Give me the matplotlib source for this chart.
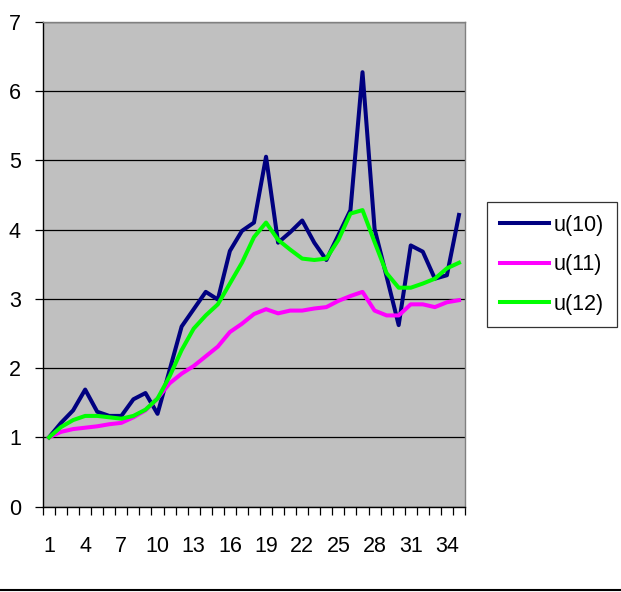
import matplotlib.pyplot as plt
from matplotlib.lines import Line2D
import numpy as np

plt.rcParams['font.family'] = ['Liberation Sans', 'DejaVu Sans']

# data
cats = list(range(1, 36))
u10 = [1.00, 1.21, 1.39, 1.69, 1.37, 1.31, 1.31, 1.55, 1.64, 1.34,
       1.97, 2.60, 2.85, 3.10, 2.99, 3.69, 3.98, 4.10, 5.05, 3.81,
       3.96, 4.13, 3.81, 3.56, 3.92, 4.28, 6.27, 4.01, 3.32, 2.62,
       3.77, 3.68, 3.29, 3.34, 4.21]
u11 = [1.00, 1.08, 1.12, 1.14, 1.16, 1.19, 1.21, 1.29, 1.39, 1.56,
       1.78, 1.92, 2.03, 2.17, 2.31, 2.52, 2.64, 2.78, 2.85, 2.79,
       2.83, 2.83, 2.86, 2.88, 2.97, 3.04, 3.10, 2.83, 2.76, 2.76,
       2.92, 2.92, 2.88, 2.95, 2.98]
u12 = [1.00, 1.15, 1.25, 1.31, 1.31, 1.29, 1.27, 1.31, 1.40, 1.56,
       1.88, 2.26, 2.57, 2.76, 2.92, 3.22, 3.52, 3.89, 4.10, 3.85,
       3.71, 3.58, 3.56, 3.58, 3.85, 4.23, 4.28, 3.82, 3.37, 3.16,
       3.16, 3.22, 3.29, 3.44, 3.52]
names = ['u(10)', 'u(11)', 'u(12)']
colors = ['#000080', '#FF00FF', '#00FF00']

fig = plt.figure(figsize=(6.21, 5.92), dpi=100)
ax = fig.add_axes([0.0692, 0.1441, 0.6796, 0.8194])
ax.set_facecolor('#C0C0C0')

for vals, name, c in zip([u10, u11, u12], names, colors):
    ax.plot(cats, vals, color=c, lw=2.9, label=name)

ax.set_xlim(0.5, 35.5)
ax.set_ylim(0, 7)
ax.set_yticks(range(0, 8))
ax.yaxis.grid(True, color='black', lw=0.9)
ax.set_axisbelow(True)

ax.set_xticks(cats[::3])
ax.set_xticklabels([str(c) for c in cats[::3]])
ax.set_xticks(np.arange(0.5, 36, 1), minor=True)
ax.tick_params(axis='x', which='major', length=0, pad=21, labelsize=15.5)
ax.tick_params(axis='x', which='minor', length=6, width=0.9, direction='out')
ax.tick_params(axis='y', length=6, width=0.9, pad=10, labelsize=15.5)

for s in ['left', 'bottom']:
    ax.spines[s].set_color('black')
    ax.spines[s].set_linewidth(1.0)
for s in ['top', 'right']:
    ax.spines[s].set_color('#808080')
    ax.spines[s].set_linewidth(1.0)

leg = fig.legend(loc='upper left', bbox_to_anchor=(487 / 621, 1 - 202 / 592),
                 frameon=True, fancybox=False, edgecolor='black', fontsize=15.5,
                 handlelength=2.3, handletextpad=0.2, labelspacing=0.85,
                 borderpad=0.6, borderaxespad=0)
leg.get_frame().set_linewidth(0.9)

fig.add_artist(Line2D([0, 1], [1 - 590 / 592] * 2, color='black', lw=1.5,
                      transform=fig.transFigure))

fig.savefig('out.png', dpi=100)
